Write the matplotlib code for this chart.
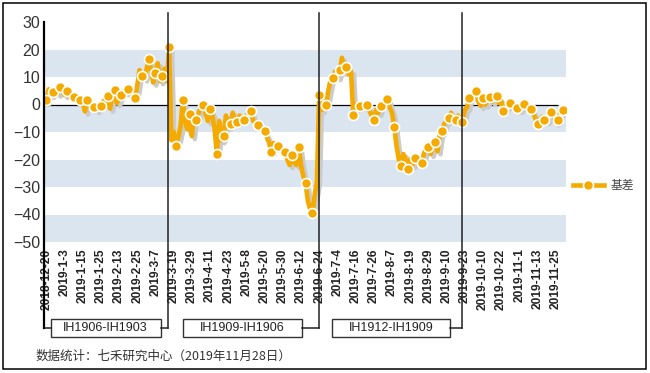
import matplotlib
matplotlib.use("Agg")
import matplotlib.pyplot as plt
import matplotlib.transforms as mtransforms
from matplotlib.patches import Rectangle
from matplotlib.lines import Line2D

plt.rcParams['font.family'] = ['Liberation Sans', 'Noto Sans CJK SC', 'DejaVu Sans']

# daily basis values (trading days 2018-12-20 .. 2019-11-28)
basis = [
    1.5, 5.5, 3.5, 4.5, 5.0, 4.0, 6.5, 5.0, 3.5, 4.8,
    3.0, 3.8, 2.7, 2.0, 2.5, 1.5, 0.5, -2.5, 1.7, 0.5,
    -1.5, -1.0, -2.0, 0.0, -0.4, 1.0, 2.0, 3.0, -1.5, 3.5,
    5.3, 0.5, 2.5, 3.5, 5.0, 4.5, 5.5, 4.5, 3.5, 2.4,
    7.0, 12.5, 10.5, 9.5, 12.5, 16.4, 13.0, 8.0, 11.4, 15.0,
    8.5, 10.4, 13.0, 8.5, 21.0, -13.0, -10.0, -15.0, -12.0, -8.0,
    1.7, -6.0, -9.0, -3.6, -11.5, -4.0, -5.8, -3.0, -1.0, 0.0,
    -3.0, -6.0, -1.8, -4.0, -9.0, -17.9, -6.0, -13.0, -11.6, -4.0,
    -8.0, -7.0, -3.0, -6.0, -6.4, -4.0, -5.0, -5.6, -4.0, -3.5,
    -2.4, -6.0, -6.5, -7.6, -8.5, -9.0, -9.8, -12.0, -14.0, -17.3,
    -14.0, -15.5, -15.1, -16.5, -17.0, -17.3, -20.0, -22.0, -18.2, -21.0,
    -22.0, -15.5, -22.0, -26.0, -28.5, -35.0, -38.0, -39.5, -33.0, -28.0,
    3.6, -2.0, 0.0, -0.1, 5.0, 9.0, 9.6, 12.0, 10.0, 12.4,
    17.0, 12.0, 13.6, 11.0, 12.0, -3.8, 0.0, -1.0, -0.7, 0.5,
    -1.0, -0.2, -2.0, -4.0, -5.5, -2.0, -3.0, -0.4, 0.0, 1.5,
    2.0, -1.0, -3.0, -8.2, -15.0, -20.0, -22.2, -18.0, -20.0, -23.4,
    -20.0, -22.0, -19.5, -20.0, -21.0, -21.3, -18.0, -16.0, -15.5, -18.0,
    -15.0, -13.5, -17.0, -11.0, -9.8, -7.0, -6.0, -4.8, -3.0, -6.0,
    -5.8, -4.0, -5.0, -6.2, -2.0, -1.0, 2.4, 3.0, 4.0, 4.8,
    1.0, -0.5, 2.3, 0.0, 1.5, 2.9, 1.0, 2.0, 3.0, 0.5,
    1.5, -2.2, -1.0, 0.0, 0.5, 1.0, -1.5, -1.2, -2.0, -1.0,
    0.2, -1.0, -0.5, -1.6, -3.0, -5.0, -7.0, -6.0, -4.5, -5.6,
    -6.0, -4.0, -2.9, -3.5, -6.5, -5.8, -3.0, -1.9,
]

tick_labels = [
    '2018-12-20', '2019-1-3', '2019-1-15', '2019-1-25', '2019-2-13',
    '2019-2-25', '2019-3-7', '2019-3-19', '2019-3-29', '2019-4-11',
    '2019-4-23', '2019-5-8', '2019-5-20', '2019-5-30', '2019-6-12',
    '2019-6-24', '2019-7-4', '2019-7-16', '2019-7-26', '2019-8-7',
    '2019-8-19', '2019-8-29', '2019-9-10', '2019-9-23', '2019-10-10',
    '2019-10-22', '2019-11-1', '2019-11-13', '2019-11-25',
]
tick_step = 8

contracts = ['IH1906-IH1903', 'IH1909-IH1906', 'IH1912-IH1909']
roll_days = [53.4, 119.9, 182.7]          # where the front contract switched
box_spans = [(1.9, 50.3), (60.0, 112.3), (125.8, 177.5)]

W, H = 650, 373
fig = plt.figure(figsize=(W / 100, H / 100), dpi=100)
ax = fig.add_axes([44.3 / W, 1 - 242 / H, (565.7 - 44.3) / W, 220 / H])

def fy(py):
    return 1 - py / H

x = list(range(len(basis)))
x0, x1 = -0.88, 228.4

# stripes
for lo in (10, -10, -30, -50):
    ax.axhspan(lo, lo + 10, color='#DAE5F0', lw=0, zorder=0)
ax.hlines(0, x0, 225, color='black', lw=0.9, zorder=1)

marks = list(range(0, len(basis), 3)) + [len(basis) - 1]
shadow = mtransforms.offset_copy(ax.transData, fig=fig, x=3, y=-3, units='dots')
ax.plot(x, basis, color='#CBCBCB', lw=3.3, transform=shadow, zorder=2,
        solid_joinstyle='round')
ax.plot(x, basis, color='#F5AA00', lw=3.3, zorder=3, solid_joinstyle='round',
        marker='o', markevery=marks, markersize=7.2,
        markerfacecolor='#F5AA00', markeredgecolor='white', markeredgewidth=1.2,
        label='基差')

ax.set_xlim(x0, x1)
ax.set_ylim(-50, 30)
ax.set_yticks(range(-50, 31, 10))
ax.tick_params(axis='y', length=0, pad=3, labelsize=11.5, labelcolor='#333333')
ax.set_xticks([i * tick_step for i in range(len(tick_labels))])
ax.set_xticklabels(tick_labels, rotation=90, fontsize=8.6, fontweight='bold',
                   color='#222222', va='top', ha='center')
ax.tick_params(axis='x', length=0, pad=4.5)
for s in ('top', 'right', 'bottom', 'left'):
    ax.spines[s].set_visible(False)

# left axis line running down to the bracket
fig.add_artist(Line2D([44.3 / W, 44.3 / W], [fy(21.7), fy(328.3)],
                      color='black', lw=1.6, transform=fig.transFigure))

# contract roll lines, brackets and boxes
blend = mtransforms.blended_transform_factory(ax.transData, fig.transFigure)
ybr = fy(328.3)
for rd, (bl, br), name in zip(roll_days, box_spans, contracts):
    ax.add_line(Line2D([rd, rd], [fy(13), ybr], color='#222222', lw=1.1,
                       transform=blend, clip_on=False, zorder=5))
    ax.add_line(Line2D([br, rd], [ybr, ybr], color='#222222', lw=1.1,
                       transform=blend, clip_on=False, zorder=5))
    ax.add_patch(Rectangle((bl, fy(336.7)), br - bl, (336.7 - 319.3) / H,
                           transform=blend, clip_on=False, fill=False,
                           ec='#333333', lw=1.0))
    ax.text((bl + br) / 2, fy(328.3), name, transform=blend, ha='center',
            va='center', fontsize=9, color='#222222')
# bracket from the left axis to the first box
ax.add_line(Line2D([x0, box_spans[0][0]], [ybr, ybr], color='#222222', lw=1.1,
                   transform=blend, clip_on=False))

leg = ax.legend(loc='center left', bbox_to_anchor=(573 / W, fy(186)),
                bbox_transform=fig.transFigure, frameon=False, borderpad=0,
                borderaxespad=0, handlelength=2.6, handletextpad=0.6,
                prop={'family': ['Noto Sans CJK SC'], 'size': 8.5})
for t in leg.get_texts():
    t.set_color('#444444')

fig.text(35.7 / W, fy(356.7), '数据统计：七禾研究中心（2019年11月28日）',
         fontsize=9, color='#333333', va='center', ha='left',
         family=['Noto Sans CJK SC', 'DejaVu Sans'])

fig.add_artist(Rectangle((2.5 / W, fy(368.5)), (646 - 2.5) / W, (368.5 - 2.5) / H,
                         transform=fig.transFigure, fill=False, ec='black', lw=1.1))

fig.savefig('out.png', dpi=100)
